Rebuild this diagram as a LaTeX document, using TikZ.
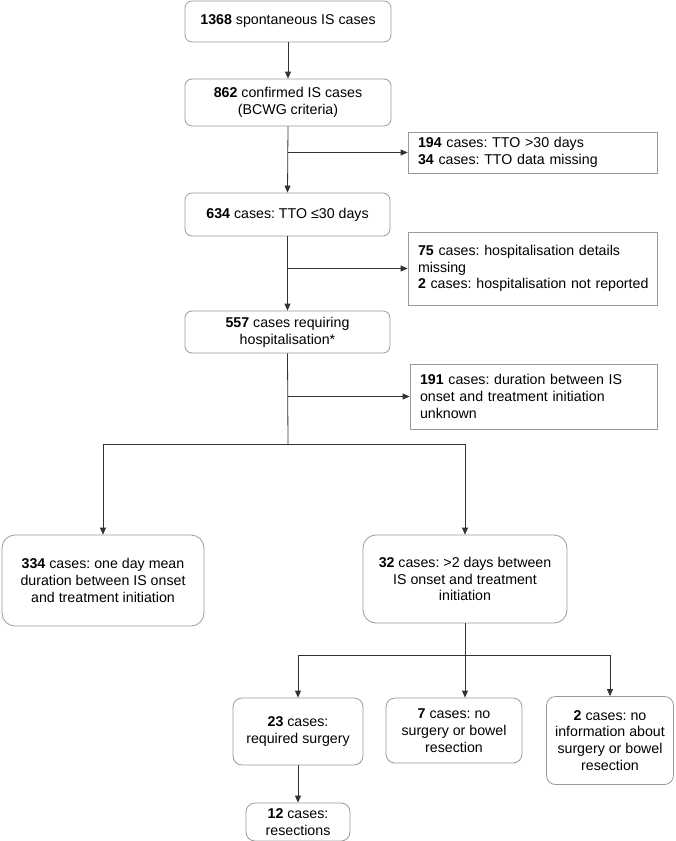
\documentclass[tikz,border=0pt]{standalone}
\usepackage{fontspec}
\setmainfont{Liberation Sans}
\usetikzlibrary{arrows.meta}
\definecolor{boxgray}{HTML}{9A9A9A}
\definecolor{linegray}{HTML}{333333}
\frenchspacing
\tikzset{
  base/.style={draw=boxgray, line width=0.8pt, inner sep=0pt, font=\fontsize{14.2pt}{16.8pt}\selectfont, text=black},
  mainbox/.style={base, rectangle, rounded corners=7pt, align=center},
  bigbox/.style={base, rectangle, rounded corners=13pt, align=center},
  lowbox/.style={base, rectangle, rounded corners=9pt, align=center},
  sidebox/.style={base, rectangle, align=left, inner xsep=10pt},
  conn/.style={draw=linegray, line width=0.8pt},
  arr/.style={conn, -{Triangle[length=7pt,width=6pt]}}
}
\begin{document}
\begin{tikzpicture}[x=1pt,y=-1pt]
\useasboundingbox (0,0) rectangle (675,841);
% main column
\node[mainbox, minimum width=206pt, minimum height=41pt] (b1) at (288,21.5) {\textbf{1368} spontaneous IS cases};
\node[mainbox, minimum width=206pt, minimum height=47pt] (b2) at (288,102.5) {\textbf{862} confirmed IS cases\\(BCWG criteria)};
\node[mainbox, minimum width=205pt, minimum height=43pt] (b3) at (287.5,214.5) {\textbf{634} cases: TTO ≤30 days};
\node[mainbox, minimum width=205pt, minimum height=42pt] (b4) at (287.5,332) {\textbf{557} cases requiring\\hospitalisation*};
% side boxes
\node[sidebox, minimum width=249pt, minimum height=41pt, text width=229pt] (s1) at (532.5,152.5) {\textbf{194} cases: TTO >30 days\\\textbf{34} cases: TTO data missing};
\node[sidebox, minimum width=249pt, minimum height=73pt, text width=229pt] (s2) at (532.5,268.5) {\textbf{75} cases: hospitalisation details\\missing\\\mbox{\textbf{2} cases: hospitalisation not reported}};
\node[sidebox, minimum width=247pt, minimum height=65pt, text width=227pt] (s3) at (533.5,396.5) {\textbf{191} cases: duration between IS\\onset and treatment initiation\\unknown};
% second level
\node[bigbox, minimum width=202pt, minimum height=91pt] (b5) at (103,580.5) {\textbf{334} cases: one day mean\\duration between IS onset\\and treatment initiation};
\node[bigbox, minimum width=204pt, minimum height=88pt] (b6) at (465,579) {\textbf{32} cases: >2 days between\\IS onset and treatment\\initiation};
% third level
\node[lowbox, minimum width=130pt, minimum height=67pt] (b7) at (298,731.5) {\textbf{23} cases:\\required surgery};
\node[lowbox, minimum width=136pt, minimum height=65pt] (b8) at (454,730.5) {\textbf{7} cases: no\\surgery or bowel\\resection};
\node[lowbox, minimum width=127pt, minimum height=88pt] (b9) at (610,740.5) {\textbf{2} cases: no\\information about\\surgery or bowel\\resection};
\node[lowbox, minimum width=104pt, minimum height=38pt] (b10) at (298,822) {\textbf{12} cases:\\resections};
% junctions
\coordinate (j1) at (288,444);
\coordinate (j2) at (465,655);
% connectors
\draw[arr] (b1) -- (b2);
\draw[arr] (b2.south) -- (b3.north);
\draw[arr] (b2.south |- s1.west) -- (s1.west);
\draw[arr] (b3.south) -- (b4.north);
\draw[arr] (b3.south |- s2.west) -- (s2.west);
\draw[conn] (b4.south) -- (j1);
\draw[arr] (b4.south |- s3.west) -- (s3.west);
\draw[conn] (b5.north |- j1) -- (b6.north |- j1);
\draw[arr] (b5.north |- j1) -- (b5.north);
\draw[arr] (b6.north |- j1) -- (b6.north);
\draw[conn] (b6.south) -- (j2);
\draw[conn] (b7.north |- j2) -- (b9.north |- j2);
\draw[arr] (b7.north |- j2) -- (b7.north);
\draw[arr] (j2) -- (j2 |- b8.north);
\draw[arr] (b9.north |- j2) -- (b9.north);
\draw[arr] (b7.south) -- (b10.north);
\end{tikzpicture}
\end{document}
